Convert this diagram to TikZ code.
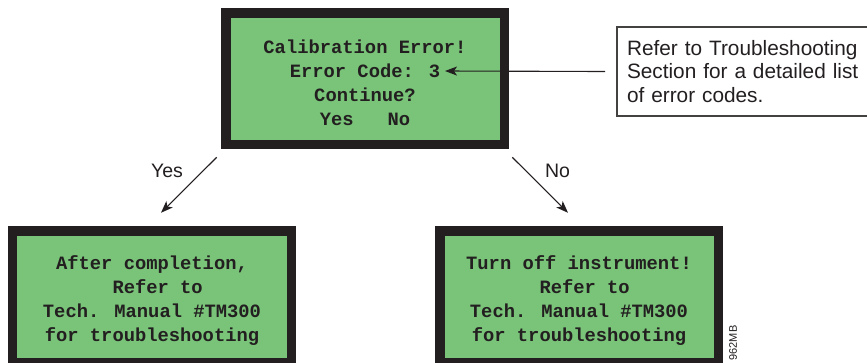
\documentclass[tikz,border=0pt]{standalone}
\usepackage{fontspec}
\setmainfont{Liberation Sans}
\newfontfamily\lcdfont{Liberation Mono}
\usetikzlibrary{arrows.meta}
\definecolor{lcdgreen}{RGB}{121,196,121}
\definecolor{frame}{RGB}{35,31,32}
\definecolor{ink}{RGB}{35,31,32}
\begin{document}
\begin{tikzpicture}[x=1bp, y=-1bp,
  lcd/.style={draw=frame, fill=lcdgreen, line width=9.5bp, minimum width=278.5bp,
    minimum height=131.5bp, inner sep=0pt, outer sep=0pt, align=center, text=ink,
    font=\lcdfont\bfseries\fontsize{18.8bp}{24bp}\selectfont},
  note/.style={draw=ink!85, line width=1.1bp, text width=280bp, minimum height=89bp,
    inner xsep=10bp, inner ysep=0pt, outer sep=0pt, align=left, text=ink,
    font=\fontsize{20.8bp}{23.5bp}\selectfont},
  link/.style={line width=1.1bp, draw=ink, -{Stealth[length=12bp,width=9bp,inset=3bp]}},
  lbl/.style={text=ink, font=\fontsize{19.5bp}{22bp}\selectfont}]
\useasboundingbox (0,0) rectangle (867,362);
\node[lcd] (calib) at (365,78.5) {\rule{0pt}{22bp}Calibration Error!\\Error Code: 3\\Continue?\\Yes\ \ \ No};
\node[lcd] (after) at (152,296.5) {\rule{0pt}{22bp}After completion,\\\hphantom{R}Refer to\\Tech. Manual \#TM300\\for troubleshooting};
\node[lcd] (off) at (579,296.5) {\rule{0pt}{22bp}Turn off instrument!\\\hphantom{R}Refer to\\Tech. Manual \#TM300\\for troubleshooting};
\node[note, anchor=north west] (note) at (617,27) {Refer to Troubleshooting\\Section for a detailed list\\of error codes.};
\coordinate (code) at (445,71);
\draw[link] ([xshift=-12bp]note.west) -- (code);
\draw[link] ([shift={(-9,13)}]calib.south west) -- ([shift={(9,-18)}]after.north)
  node[pos=0.25, left=16bp, lbl] {Yes};
\draw[link] ([shift={(8,13)}]calib.south east) -- ([shift={(-11,-18)}]off.north)
  node[pos=0.25, right=15bp, lbl] {No};
\node[rotate=90, anchor=west, text=ink, font=\fontsize{11bp}{12bp}\selectfont] (fig) at (733,364) {962MB};
\end{tikzpicture}
\end{document}
